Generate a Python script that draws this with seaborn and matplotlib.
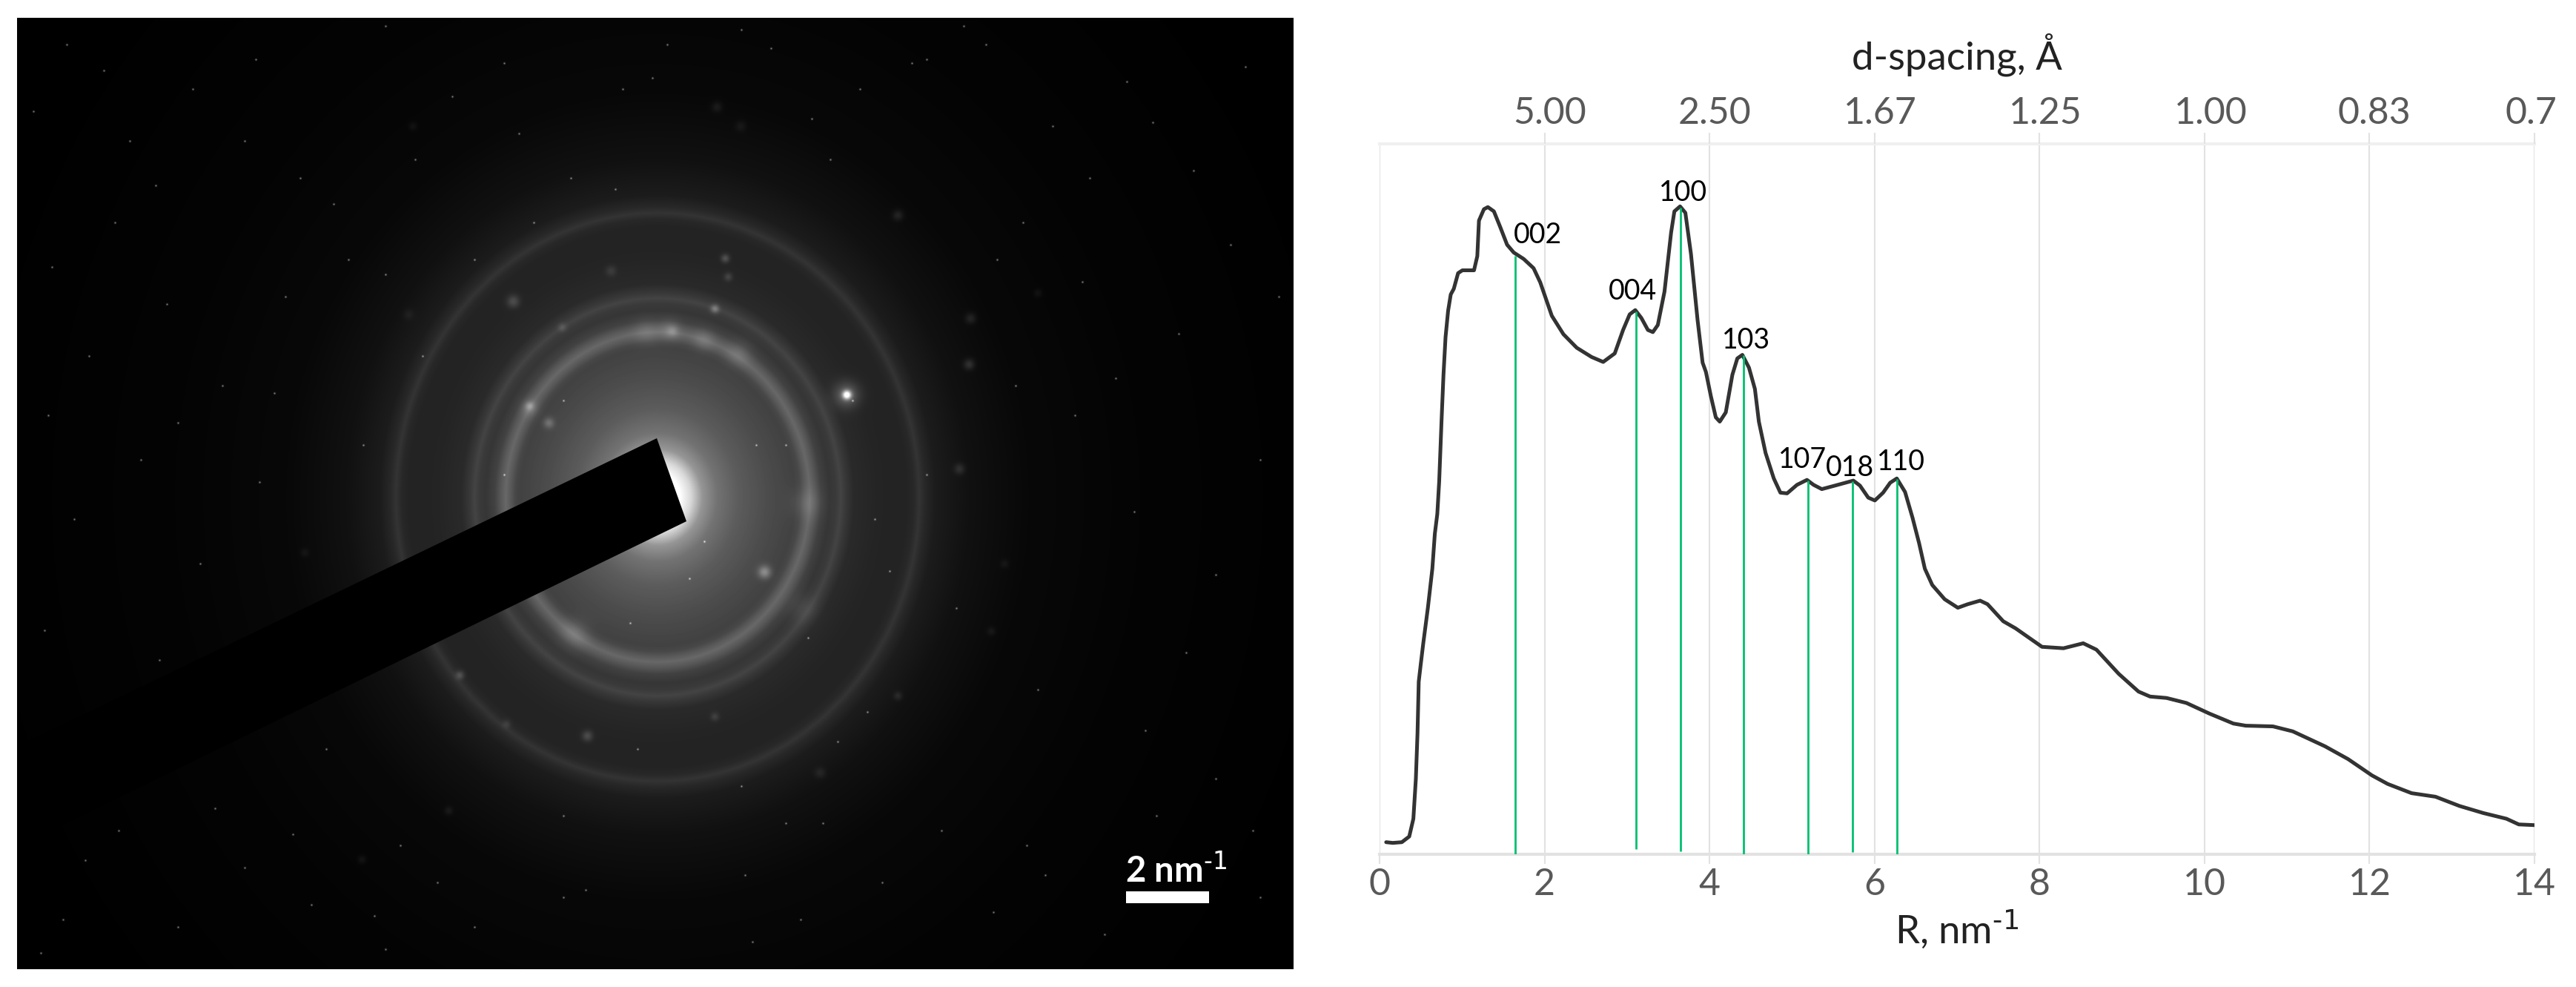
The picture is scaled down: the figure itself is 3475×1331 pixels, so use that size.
import numpy as np
import matplotlib
matplotlib.use("Agg")
import matplotlib.pyplot as plt
from matplotlib.patches import Polygon, Rectangle
from matplotlib.transforms import ScaledTranslation
import seaborn as sns

# ---- profile curve ----
R_nm = [0.08,0.16,0.27,0.36,0.41,0.44,0.46,0.475,0.50,0.53,0.586,0.64,0.67,0.70,0.723,0.751,0.775,0.80,0.831,0.863,
        0.90,0.952,1.004,1.145,1.185,1.205,1.265,1.313,1.386,1.466,1.546,1.627,1.747,1.867,1.948,2.088,2.229,2.390,2.570,2.711,
        2.851,2.952,3.032,3.100,3.173,3.253,3.313,3.373,3.454,3.534,3.574,3.643,3.707,3.775,3.855,3.916,3.956,4.016,4.076,4.124,
        4.197,4.277,4.337,4.398,4.478,4.550,4.598,4.679,4.779,4.859,4.940,5.060,5.181,5.261,5.361,5.522,5.743,5.823,5.924,6.004,
        6.104,6.19,6.27,6.37,6.46,6.54,6.61,6.70,6.85,7.01,7.13,7.28,7.37,7.56,7.71,8.03,8.29,8.53,8.69,8.96,
        9.20,9.34,9.54,9.78,10.06,10.35,10.50,10.83,11.07,11.46,11.74,12.03,12.22,12.51,12.80,13.09,13.38,13.66,13.81,14.0]
intensity = [1.7,1.6,1.7,2.5,5.0,10.6,17.0,24.3,26.8,29.7,34.7,40.2,45.1,47.9,52.5,60.9,67.5,72.8,76.5,78.8,
             79.6,81.8,82.2,82.2,84.2,89.2,90.8,91.1,90.5,88.2,85.8,84.7,83.8,82.5,80.5,75.8,73.2,71.3,70.0,69.3,
             70.5,73.8,76.0,76.6,75.5,73.8,73.5,74.5,79.2,87.5,90.5,91.2,90.3,84.5,75.2,69.2,67.9,64.5,61.5,60.9,
             62.2,67.5,69.8,70.3,68.5,65.5,60.9,56.5,52.9,50.9,50.8,52.0,52.7,52.0,51.4,51.9,52.6,51.9,50.2,49.8,
             50.9,52.3,52.9,51.0,47.4,43.8,40.2,37.9,35.9,34.7,35.2,35.7,35.2,32.8,31.8,29.2,29.0,29.7,28.8,25.4,
             22.9,22.2,22.0,21.3,19.8,18.4,18.1,18.0,17.3,15.2,13.4,11.1,9.9,8.6,8.1,6.8,5.8,5.0,4.2,4.1]

# ---- indexed reflections ----
hkl_labels = ["002","004","100","103","107","018","110"]
hkl_R = [1.64,3.11,3.65,4.41,5.19,5.73,6.27]
hkl_top = [84.2,76.4,91.0,70.2,52.6,52.5,52.8]
hkl_bottom = [0,0.7,0.4,0,0,0.3,0]
label_R = [1.92,3.07,3.68,4.44,5.13,5.70,6.32]
label_v = [87.2,79.2,93.1,72.3,55.5,54.4,55.2]

bottom_ticks = [0,2,4,6,8,10,12,14]
top_ticks = [2,4,6,8,10,12,14]
top_labels = ["5.00","2.50","1.67","1.25","1.00","0.83","0.7"]
top_shift_px = [7,7,8,8,8,6,-5]

# ---- diffraction photograph ----
ring_r = [0,30,45,60,80,110,150,185,192,198,205,212,220,232,240,247,254,265,300,335,345,353,361,375,420,500,650,900,1300]
ring_level = [255,255,215,150,115,92,76,66,72,88,104,88,66,54,58,68,56,42,36,35,40,52,40,28,17,8,4,1,0]
spot_x = [1142,1142,1031,740,964,692,978,982,824,1307,1309,1294,1211,967,999,620,792,1211,605,1106,488,1337,551,964,683,714,758,907,1400,557,411,1355,903,872,949,997,714,775,1087,1082]
spot_y = [532,532,771,570,416,406,348,373,365,491,429,632,290,144,170,910,992,938,1093,1042,1159,851,424,966,976,547,441,446,395,170,745,760,444,448,458,476,550,854,678,820]
spot_amp = [200,60,70,45,60,40,45,30,22,35,25,28,25,18,14,40,40,22,16,18,14,14,12,25,20,40,25,25,12,12,12,12,25,20,22,20,25,25,20,15]
spot_sig = [4,12,6,5,4,6,4,4,5,5,5,5,5,5,5,4,5,4,4,5,4,4,5,4,4,4,4,5,4,4,4,4,10,12,10,12,8,14,14,14]
speck_x = [90,175,260,345,520,610,405,155,70,120,225,300,385,470,100,190,270,350,60,130,215,290,440,540,760,1005,1080,1190,1270,1340,1410,1490,1560,1640,1700,
           1160,1250,1330,1420,1520,1610,1680,1380,1460,1590,1660,1450,1530,1700,1180,1290,1400,1600,1060,950,850,760,640,520,420,330,240,160,85,55,1250,1370,840,900,1000,
           45,140,210,330,450,560,680,770,880,1040,1120,1300,1470,1555,1725,65,240,370,490,700,830,1095,1230,1345,1505,1640,36,115,200,395,505,1015,1110,1385,1545,1690,
           680,760,820,930,1020,1090,600,570,1150,1200,640,720,860,1000,1130,520,590,790,1060,1170]
speck_y = [60,190,120,80,35,130,240,300,360,480,410,520,400,350,700,620,760,650,850,980,890,1090,1010,1140,1210,1180,1240,1190,1120,1230,1180,1260,1100,1050,1210,
           120,80,60,170,110,230,90,300,380,450,330,560,690,620,700,820,930,880,600,730,840,1100,1250,1280,1220,1170,1250,1120,1240,1285,640,520,120,60,40,
           150,95,250,190,275,215,85,240,105,65,215,35,240,165,400,560,570,530,600,180,255,160,85,350,510,775,1050,1160,1040,1125,1235,1270,1110,1140,985,1120,
           640,540,720,780,600,860,780,480,540,770,350,300,1010,1060,1000,370,1190,1200,1110,960]

fig = plt.figure(figsize=(34.75, 13.31), dpi=100)
sns.set_theme(style="white")
plt.rcParams["font.family"] = ["Lato", "DejaVu Sans"]
plt.rcParams["mathtext.default"] = "regular"
fig.set_facecolor("white")
W, H = 3475, 1331

def px_axes(x0, y0, x1, y1):
    return fig.add_axes([x0 / W, 1 - y1 / H, (x1 - x0) / W, (y1 - y0) / H])

# ---- left panel ----
ax_img = px_axes(23, 24, 1745, 1307)
xs = np.arange(23, 1745, dtype=float)
ys = np.arange(24, 1307, dtype=float)
gx, gy = np.meshgrid(xs, ys)
rad = np.hypot(gx - 887, (gy - 670) / 1.085)
img = np.interp(rad, ring_r, ring_level)
for sx, sy, sa, ss in zip(spot_x, spot_y, spot_amp, spot_sig):
    img += sa * np.exp(-((gx - sx) ** 2 + (gy - sy) ** 2) / (2 * ss ** 2))
for sx, sy in zip(speck_x, speck_y):
    img += 120 * np.exp(-((gx - sx) ** 2 + (gy - sy) ** 2) / 1.6)
img = np.clip(img, 0, 255)
ax_img.imshow(img, cmap="gray", vmin=0, vmax=255, extent=(23, 1745, 1307, 24), aspect="auto", interpolation="bilinear")
ax_img.add_patch(Polygon([(886, 591), (926, 703), (23, 1142), (23, 1007)], closed=True, fc="black", ec="none"))
ax_img.set_xlim(23, 1745)
ax_img.set_ylim(1307, 24)
ax_img.axis("off")
ax_img.add_patch(Rectangle((1519, 1202), 112, 16, fc="white", ec="none"))
ax_img.text(1518, 1190, r"2 nm$^{\text{-1}}$", color="white", fontsize=34, fontweight="bold", ha="left", va="baseline")

# ---- right panel ----
ax = px_axes(1861, 194, 3419, 1152)
sns.lineplot(x=R_nm, y=intensity, ax=ax, color="#333333", lw=3.6, estimator=None, zorder=3)
ax.vlines(hkl_R, hkl_bottom, hkl_top, color="#00c070", lw=2.0, zorder=4)
for t, lx, ly in zip(hkl_labels, label_R, label_v):
    ax.text(lx, ly, t, fontsize=27, color="black", ha="center", va="center", zorder=5)
ax.set_xlim(0, 14)
ax.set_ylim(0, 100)
ax.set_yticks([])
ax.set_xticks(bottom_ticks)
ax.grid(axis="x", color="#e2e2e2", lw=1.5)
ax.set_axisbelow(True)
for s in ("left", "right"):
    ax.spines[s].set_visible(False)
ax.spines["bottom"].set_color("#e2e2e2")
ax.spines["bottom"].set_linewidth(3)
ax.spines["top"].set_color("#f0f0f0")
ax.spines["top"].set_linewidth(3)
ax.tick_params(axis="x", bottom=True, length=9, width=1.5, color="#e2e2e2", labelsize=36, labelcolor="#595959", pad=4)
ax.set_xlabel(r"R, nm$^{\text{-1}}$", fontsize=38, color="#222222", labelpad=6)

top = ax.twiny()
top.set_xlim(0, 14)
top.set_xticks(top_ticks)
top.set_xticklabels(top_labels)
top.tick_params(axis="x", top=True, length=11, width=1.5, color="#e2e2e2", labelsize=36, labelcolor="#595959", pad=2)
for lab, dx in zip(top.get_xticklabels(), top_shift_px):
    lab.set_transform(lab.get_transform() + ScaledTranslation(dx / 100, 0, fig.dpi_scale_trans))
for s in top.spines.values():
    s.set_visible(False)
top.set_yticks([])
top.set_xlabel("d-spacing, Å", fontsize=38, color="#222222", labelpad=26)
top.grid(False)

fig.savefig("out.png", dpi=100, facecolor="white")
